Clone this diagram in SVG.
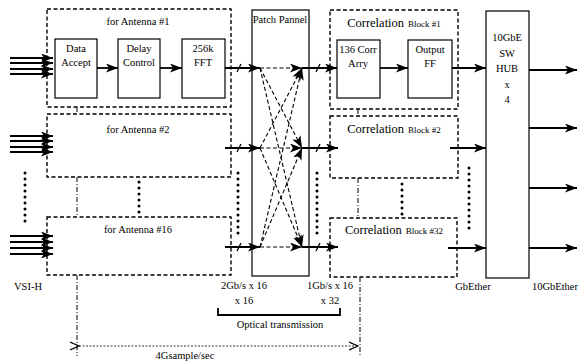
<svg xmlns="http://www.w3.org/2000/svg" width="578" height="362" viewBox="0 0 578 362" font-family="'Liberation Serif','Times New Roman',serif">
<style>
text{font-family:"Liberation Serif","Times New Roman",serif;font-size:10.5px;fill:#000;text-anchor:middle}
.dbox{fill:none;stroke:#000;stroke-width:1.4;stroke-dasharray:4 2.5}
.sbox{fill:#fff;stroke:#000;stroke-width:1.2}
.ln{stroke:#000;stroke-width:1.8;fill:none}
.thin{stroke:#000;stroke-width:1.3;fill:none}
.pd{stroke:#000;stroke-width:1.1;fill:none;stroke-dasharray:4 2.5}
.dots{stroke:#000;stroke-width:3;stroke-linecap:round;stroke-dasharray:0 6;fill:none}
.dd{stroke:#000;stroke-width:1;fill:none;stroke-dasharray:5 2 1 2}
.fine{stroke:#000;stroke-width:0.8;fill:none;stroke-dasharray:2 1.5}
.big{font-size:12.5px}
.sm{font-size:9px}
</style>
<defs>
<marker id="ah" markerUnits="userSpaceOnUse" markerWidth="13" markerHeight="9" refX="12" refY="4.5" orient="auto">
<path d="M0,0 L12,4.5 L0,9 L3,4.5 z" fill="#000"/>
</marker>
<marker id="oa" markerUnits="userSpaceOnUse" markerWidth="10" markerHeight="10" refX="9" refY="5" orient="auto">
<path d="M0,1 L9,5 L0,9" fill="none" stroke="#000" stroke-width="1.2"/>
</marker>
</defs>
<rect width="578" height="362" fill="#fff"/>

<g id="antenna1">
<rect class="dbox" x="47" y="9" width="184" height="98"/>
<text x="138" y="25">for Antenna #1</text>
</g>
<g id="data-accept">
<rect class="sbox" x="55" y="39" width="42" height="59"/>
<text x="76" y="52">Data</text>
<text x="76" y="66">Accept</text>
</g>
<g id="delay-control">
<rect class="sbox" x="118" y="39" width="42" height="59"/>
<text x="139" y="52">Delay</text>
<text x="139" y="66">Control</text>
</g>
<g id="fft">
<rect class="sbox" x="182" y="39" width="43" height="59"/>
<text x="203" y="52">256k</text>
<text x="203" y="66">FFT</text>
</g>
<g id="antenna2">
<rect class="dbox" x="47" y="114" width="184" height="63"/>
<text x="138" y="133">for Antenna #2</text>
</g>
<g id="antenna16">
<rect class="dbox" x="47" y="217" width="184" height="58"/>
<text x="138" y="233">for Antenna #16</text>
</g>
<g id="patch-panel">
<rect class="sbox" x="252" y="10" width="57" height="266" fill="none"/>
<text x="280" y="23">Patch Pannel</text>
</g>
<g id="corr1">
<rect class="dbox" x="330" y="10" width="128" height="99"/>
<text x="394" y="27"><tspan class="big">Correlation</tspan><tspan class="sm" dx="4">Block #1</tspan></text>
</g>
<g id="corr-arry">
<rect class="sbox" x="337" y="40" width="43" height="58"/>
<text x="358" y="53">136 Corr</text>
<text x="358" y="67">Arry</text>
</g>
<g id="output-ff">
<rect class="sbox" x="408" y="40" width="44" height="58"/>
<text x="430" y="53">Output</text>
<text x="430" y="67">FF</text>
</g>
<g id="corr2">
<rect class="dbox" x="330" y="116" width="128" height="62"/>
<text x="394" y="133"><tspan class="big">Correlation</tspan><tspan class="sm" dx="4">Block #2</tspan></text>
</g>
<g id="corr32">
<rect class="dbox" x="330" y="218" width="127" height="59"/>
<text x="394" y="234"><tspan class="big">Correlation</tspan><tspan class="sm" dx="4">Block #32</tspan></text>
</g>
<g id="hub">
<rect class="sbox" x="486" y="11" width="43" height="267"/>
<text x="507" y="41">10GbE</text>
<text x="507" y="57">SW</text>
<text x="507" y="72">HUB</text>
<text x="507" y="88">x</text>
<text x="507" y="103">4</text>
</g>

<g id="connectors">
<path class="ln" d="M10,58H53" marker-end="url(#ah)"/>
<path class="ln" d="M10,63H53" marker-end="url(#ah)"/>
<path class="ln" d="M10,69H53" marker-end="url(#ah)"/>
<path class="ln" d="M10,74H53" marker-end="url(#ah)"/>
<path class="ln" d="M10,136H53" marker-end="url(#ah)"/>
<path class="ln" d="M10,141H53" marker-end="url(#ah)"/>
<path class="ln" d="M10,147H53" marker-end="url(#ah)"/>
<path class="ln" d="M10,152H53" marker-end="url(#ah)"/>
<path class="ln" d="M10,236H53" marker-end="url(#ah)"/>
<path class="ln" d="M10,242H53" marker-end="url(#ah)"/>
<path class="ln" d="M10,248H53" marker-end="url(#ah)"/>
<path class="ln" d="M10,254H53" marker-end="url(#ah)"/>
<path class="ln" d="M97,68H118" marker-end="url(#ah)"/>
<path class="ln" d="M160,68H182" marker-end="url(#ah)"/>
<path class="ln" d="M225,68H260" marker-end="url(#ah)"/>
<path class="ln" d="M225,148H260" marker-end="url(#ah)"/>
<path class="ln" d="M225,247H260" marker-end="url(#ah)"/>
<path class="thin" d="M237,72L241,64M237,152L241,144M237,251L241,243"/>
<path class="pd" d="M260,68H302" marker-end="url(#ah)"/>
<path class="pd" d="M260,148H302" marker-end="url(#ah)"/>
<path class="pd" d="M260,247H302" marker-end="url(#ah)"/>
<path class="pd" d="M260,68L302,148" marker-end="url(#ah)"/>
<path class="pd" d="M260,68L302,247" marker-end="url(#ah)"/>
<path class="pd" d="M260,148L302,68" marker-end="url(#ah)"/>
<path class="pd" d="M260,148L302,247" marker-end="url(#ah)"/>
<path class="pd" d="M260,247L302,68" marker-end="url(#ah)"/>
<path class="pd" d="M260,247L302,148" marker-end="url(#ah)"/>
<path class="ln" d="M302,68H337" marker-end="url(#ah)"/>
<path class="ln" d="M302,148H338" marker-end="url(#ah)"/>
<path class="ln" d="M302,247H338" marker-end="url(#ah)"/>
<path class="thin" d="M316,72L320,64M316,152L320,144M316,251L320,243"/>
<path class="ln" d="M380,68H408" marker-end="url(#ah)"/>
<path class="ln" d="M452,68H486" marker-end="url(#ah)"/>
<path class="ln" d="M450,148H486" marker-end="url(#ah)"/>
<path class="ln" d="M448,248H486" marker-end="url(#ah)"/>
<path class="ln" d="M529,70H577" marker-end="url(#ah)"/>
<path class="ln" d="M529,128H577" marker-end="url(#ah)"/>
<path class="ln" d="M529,188H577" marker-end="url(#ah)"/>
<path class="ln" d="M529,248H577" marker-end="url(#ah)"/>
<path class="dots" d="M25,173V222"/>
<path class="dots" d="M139,182V216"/>
<path class="dots" d="M238,173V238"/>
<path class="dots" d="M317,173V238"/>
<path class="dots" d="M402,184V216"/>
<path class="dots" d="M469,168V232"/>
<path class="dd" d="M77,107V114M77,177V217M77,275V356"/>
<path class="dd" d="M358,109V116M358,178V218M360,277V356"/>
<path class="fine" d="M79,346H358" marker-start="url(#oa)" marker-end="url(#oa)"/>
<path class="ln" d="M218,308V315H340V308"/>
</g>

<g id="labels">
<text x="28" y="290">VSI-H</text>
<text x="244" y="289">2Gb/s x 16</text>
<text x="244" y="304">x 16</text>
<text x="330" y="289">1Gb/s x 16</text>
<text x="330" y="304">x 32</text>
<text x="280" y="328">Optical transmission</text>
<text x="185" y="359">4Gsample/sec</text>
<text x="473" y="290">GbEther</text>
<text x="555" y="290">10GbEther</text>
</g>
</svg>
